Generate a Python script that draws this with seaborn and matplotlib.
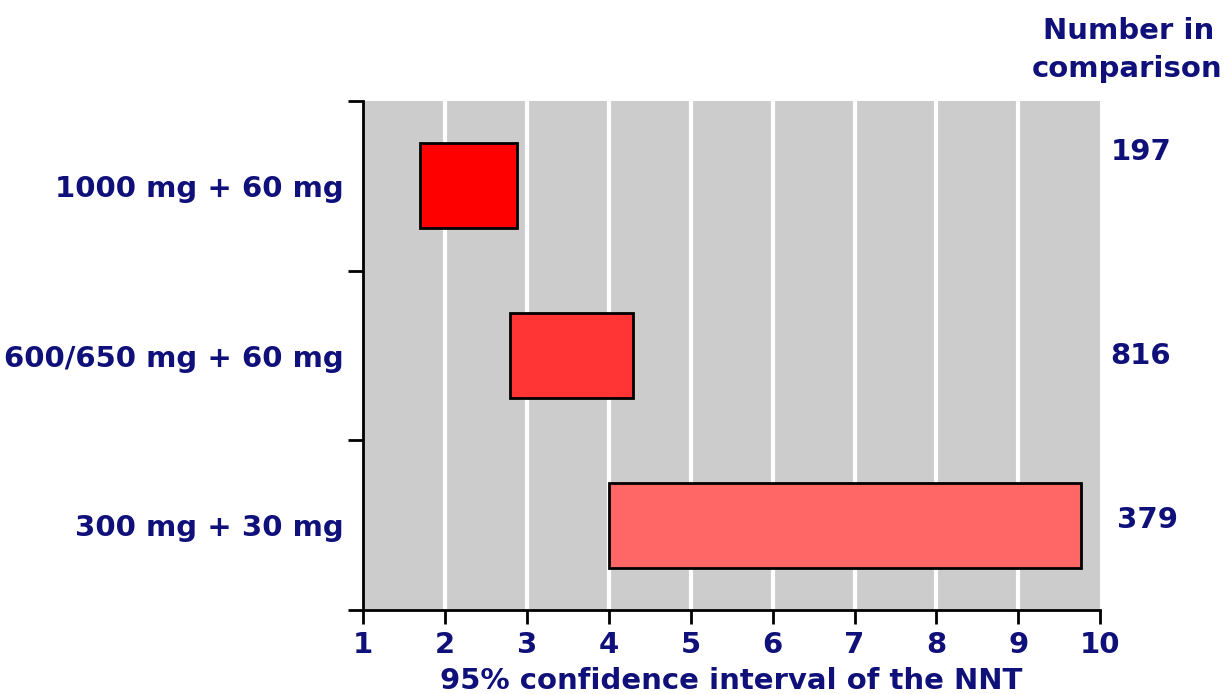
"""NNT confidence intervals for paracetamol + codeine doses, as floating bars."""

import matplotlib
import matplotlib.pyplot as plt
import pandas as pd
import seaborn as sns

matplotlib.use("Agg")

doses = ["1000 mg + 60 mg", "600/650 mg + 60 mg", "300 mg + 30 mg"]
ci_low = [1.7, 2.8, 4.0]
ci_high = [2.88, 4.3, 9.77]
n_compared = ["197", "816", "379"]
bar_colors = ["#ff0000", "#ff3535", "#ff6666"]
x_ticks = list(range(1, 11))

NAVY = "#10107a"

df = pd.DataFrame(
    {
        "dose": doses,
        "low": ci_low,
        "span": [h - l for l, h in zip(ci_low, ci_high)],
    }
)

sns.set_theme(style="white")
plt.rcParams["font.family"] = ["DejaVu Sans"]
plt.rcParams["font.weight"] = "bold"

fig = plt.figure(figsize=(12.32, 6.94), dpi=100)
ax = fig.add_axes([0.2946, 0.121, 0.5985, 0.7335])
ax.set_facecolor("#cccccc")

sns.barplot(
    data=df,
    y="dose",
    x="span",
    order=doses,
    orient="h",
    width=0.5,
    color=bar_colors[0],
    saturation=1,
    edgecolor="black",
    linewidth=2,
    ax=ax,
    zorder=3,
)
# shift each bar so it floats from the lower CI bound
for patch, c, lo in zip(ax.patches, bar_colors, df["low"]):
    patch.set_facecolor(c)
    patch.set_x(lo)

ax.set_xlim(1, 10)
ax.set_ylim(2.5, -0.5)

# white vertical grid lines
for x in x_ticks[1:-1]:
    ax.axvline(x, color="white", lw=3, zorder=1)

for side in ["top", "right"]:
    ax.spines[side].set_visible(False)
for side in ["left", "bottom"]:
    ax.spines[side].set_color("black")
    ax.spines[side].set_linewidth(2)

ax.set_xticks(x_ticks)
ax.set_xticklabels([str(v) for v in x_ticks])
ax.tick_params(
    axis="x", direction="out", length=10, width=2, color="black",
    labelsize=21, labelcolor=NAVY, pad=5, bottom=True,
)
ax.set_yticks(range(len(doses)))
ax.set_yticklabels(doses)
ax.set_yticks([-0.5, 0.5, 1.5, 2.5], minor=True)
ax.tick_params(axis="y", which="major", length=0, labelsize=21,
               labelcolor=NAVY, pad=14)
ax.tick_params(axis="y", which="minor", direction="out", length=11,
               width=2, color="black", left=True)

ax.set_ylabel("")
ax.set_xlabel("95% confidence interval of the NNT", fontsize=21,
              color=NAVY, fontweight="bold", labelpad=6)

# numbers in comparison column
num_x = [1.055, 1.055, 1.064]
num_offsets = [-0.2, 0.0, -0.03]
for i, (num, nx, off) in enumerate(zip(n_compared, num_x, num_offsets)):
    ax.text(nx, i + off, num,
            transform=ax.get_yaxis_transform(), ha="center", va="center",
            fontsize=21, color=NAVY, fontweight="bold")

fig.text(0.916, 0.955, "Number in", ha="center", va="center",
         fontsize=21, color=NAVY, fontweight="bold")
fig.text(0.915, 0.900, "comparison", ha="center", va="center",
         fontsize=21, color=NAVY, fontweight="bold")

fig.savefig("out.png", dpi=100)
